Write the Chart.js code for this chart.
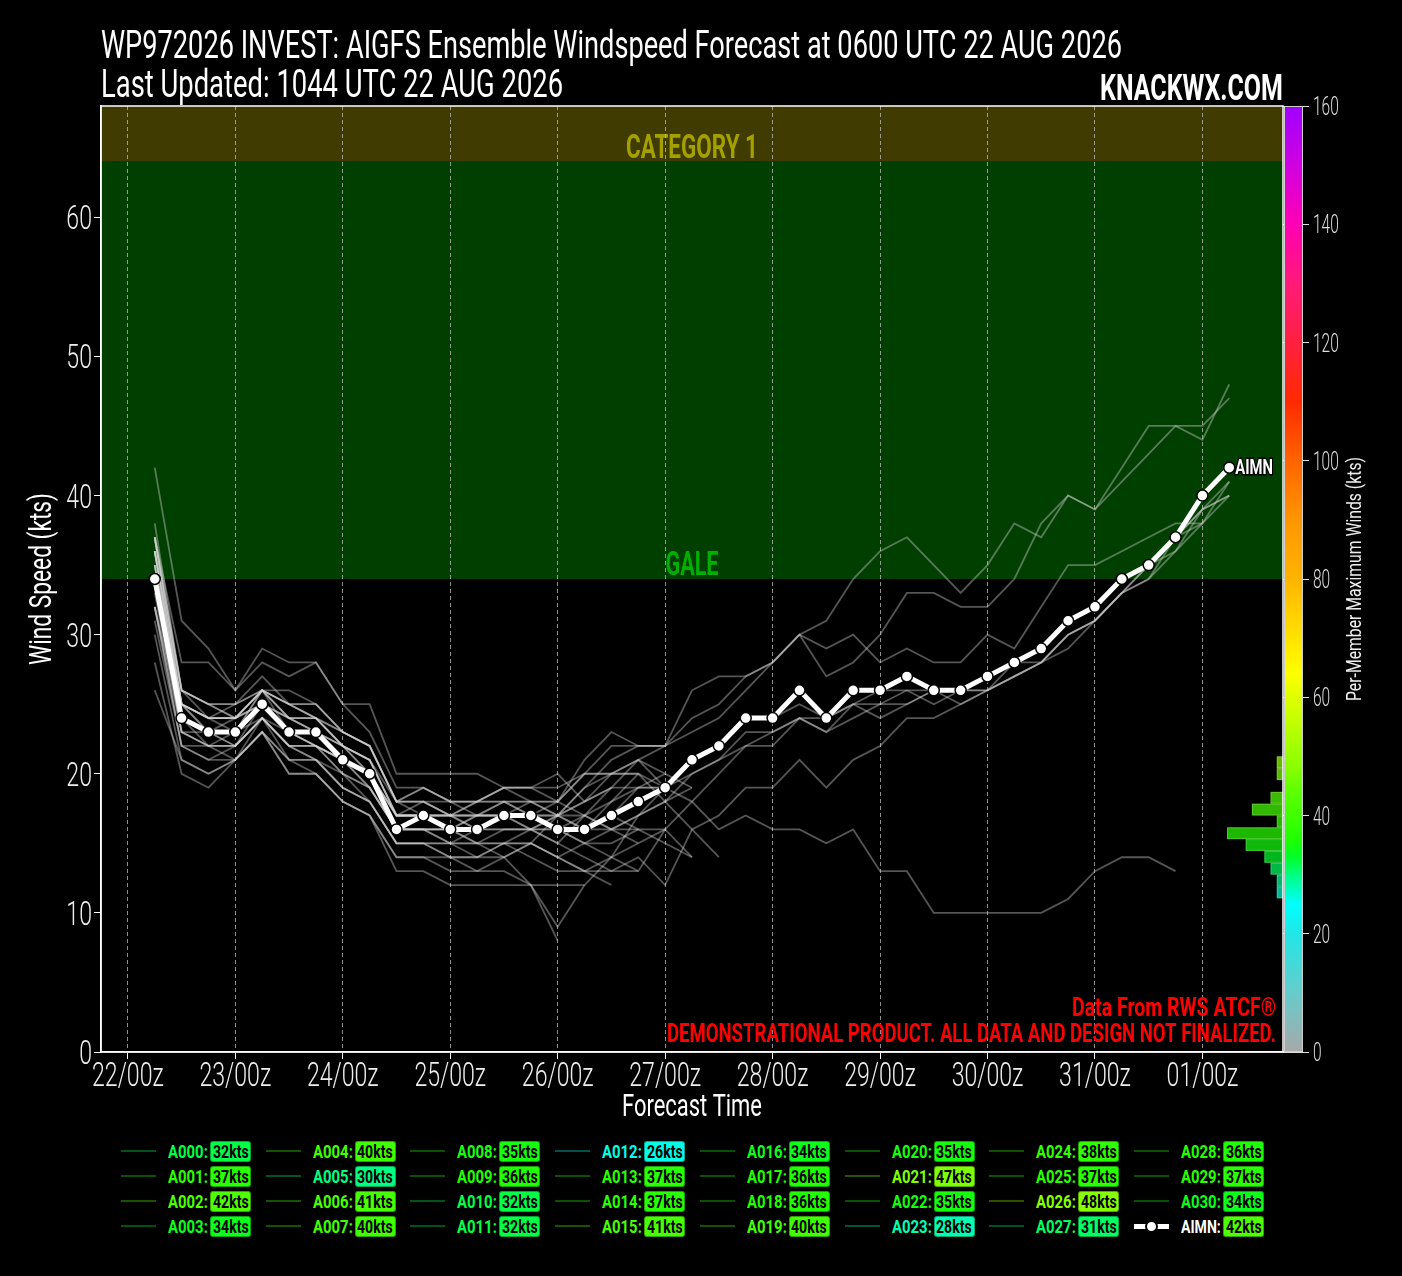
<!DOCTYPE html>
<html>
<head>
<meta charset="utf-8">
<title>WP972026 INVEST AIGFS Ensemble Windspeed Forecast</title>
<script src="https://cdn.jsdelivr.net/npm/chart.js@4.4.1/dist/chart.umd.min.js"></script>
<style>
  html, body { margin: 0; padding: 0; background: #000; }
  body {
    width: 1402px; height: 1276px; position: relative; overflow: hidden; color: #fff;
    font-family: Roboto, 'Liberation Sans', sans-serif;
  }
  #chart { position: absolute; left: 0; top: 0; z-index: 1; }
  .fit { position: absolute; white-space: nowrap; line-height: 1; transform-origin: 0 0; z-index: 2; }
  .title { font-size: 38px; }
  #brand { font-size: 37px; font-weight: bold; }
  #legend { position: absolute; left: 0; top: 0; z-index: 2; }
  .leg-line { position: absolute; height: 2px; }
  .leg-lab {
    position: absolute; font-size: 19px; font-weight: bold; line-height: 21px;
    white-space: nowrap; transform-origin: 0 50%;
  }
  .leg-box {
    position: absolute; width: 41px; height: 21px; border-radius: 3px; color: #000;
    font-size: 18px; font-weight: bold; line-height: 20px; text-align: center;
    box-sizing: border-box; border: 1px solid rgba(0, 0, 0, 0.35); white-space: nowrap;
  }
  .leg-box span { display: inline-block; transform: scaleX(0.78); margin-left: -4px; margin-right: -4px; }
</style>
</head>
<body>
<canvas id="chart" width="1402" height="1130"></canvas>
<div id="title1" class="fit title">WP972026 INVEST: AIGFS Ensemble Windspeed Forecast at 0600 UTC 22 AUG 2026</div>
<div id="title2" class="fit title">Last Updated: 1044 UTC 22 AUG 2026</div>
<div id="brand" class="fit">KNACKWX.COM</div>
<div id="legend"></div>
<script>
  "use strict";

  // Forecast lead times, hours after 22/00z
  const leadHours = [6, 12, 18, 24, 30, 36, 42, 48, 54, 60, 66, 72, 78, 84, 90, 96, 102, 108, 114, 120,
    126, 132, 138, 144, 150, 156, 162, 168, 174, 180, 186, 192, 198, 204, 210, 216, 222, 228, 234, 240, 246];

  // Axis ticks
  const tickHours = [0, 24, 48, 72, 96, 120, 144, 168, 192, 216, 240];
  const tickLabels = ["22/00z", "23/00z", "24/00z", "25/00z", "26/00z", "27/00z",
    "28/00z", "29/00z", "30/00z", "31/00z", "01/00z"];
  const windTicks = [0, 10, 20, 30, 40, 50, 60];
  const colorbarTicks = [0, 20, 40, 60, 80, 100, 120, 140, 160];

  // Ensemble mean
  const AIMN = [34, 24, 23, 23, 25, 23, 23, 21, 20, 16, 17, 16, 16, 17, 17, 16, 16, 17, 18, 19,
    21, 22, 24, 24, 26, 24, 26, 26, 27, 26, 26, 27, 28, 29, 31, 32, 34, 35, 37, 40, 42];
  const aimnMax = 42;

  // Members (values at leadHours, from 6h until each member ends)
  const A000 = [32, 22, 21, 22, 24, 21, 21, 19, 18, 15, 15, 14, 14, 15, 15, 14, 13, 12];
  const A001 = [37, 25, 24, 24, 26, 24, 23, 22, 21, 17, 17, 17, 17, 18, 17, 17, 16, 17, 18];
  const A002 = [42, 31, 29, 26, 29, 28, 28, 25, 25, 20, 20, 20, 20, 19, 19, 20, 18, 19];
  const A003 = [34, 23, 23, 22, 24, 22, 22, 21, 19, 16, 17, 16, 16, 17, 17, 16, 16, 17, 18, 19];
  const A004 = [33, 23, 22, 22, 24, 22, 22, 20, 19, 16, 16, 16, 15, 16, 16, 16, 16, 17, 16, 16,
    18, 20, 22, 23, 24, 24, 25, 24, 25, 26, 26, 26, 28, 28, 30, 31, 33, 34, 37, 39, 40];
  const A005 = [30, 21, 20, 21, 23, 21, 20, 18, 17, 14, 14, 13, 13, 13, 12, 9, 12];
  const A006 = [35, 24, 23, 23, 25, 23, 23, 21, 20, 17, 17, 16, 17, 17, 17, 18, 21, 23, 22, 22,
    26, 27, 27, 28, 30, 29, 30, 28, 29, 28, 28, 30, 29, 32, 35, 35, 36, 37, 38, 38, 41];
  const A007 = [32, 24, 22, 23, 24, 23, 22, 21, 20, 16, 16, 15, 16, 16, 16, 16, 15, 16, 17, 18,
    20, 21, 23, 23, 24, 23, 25, 26, 26, 25, 26, 26, 27, 28, 29, 31, 33, 35, 36, 38, 40];
  const A008 = [35, 25, 24, 24, 25, 24, 24, 22, 21, 17, 17, 17, 17, 17, 18, 18, 17, 16, 16, 15, 14];
  const A009 = [36, 25, 23, 23, 26, 24, 24, 22, 20, 16, 16, 16, 16, 17, 17, 16, 17, 19, 19, 19];
  const A010 = [32, 22, 22, 21, 24, 22, 21, 20, 18, 15, 15, 15, 15, 14, 12, 8];
  const A011 = [32, 23, 22, 22, 24, 22, 22, 20, 19, 16, 16, 15, 15, 15, 16, 17, 17, 16, 15];
  const A012 = [26, 21, 20, 21, 23, 20, 20, 18, 17, 14, 14, 14, 13, 14, 15, 17, 19, 20, 21, 19,
    18, 16, 17, 16, 16, 15, 16, 13, 13, 10, 10, 10, 10, 10, 11, 13, 14, 14, 13];
  const A013 = [37, 26, 24, 25, 26, 25, 25, 23, 22, 18, 18, 17, 18, 18, 18, 17, 16, 17, 19, 20];
  const A014 = [37, 26, 25, 25, 27, 25, 24, 23, 22, 18, 19, 18, 18, 19, 19, 18, 20, 20, 20, 19];
  const A015 = [34, 25, 23, 24, 25, 24, 23, 22, 21, 17, 17, 17, 16, 17, 16, 15, 17, 18, 19, 19,
    20, 21, 22, 22, 24, 23, 24, 25, 25, 26, 26, 27, 28, 29, 31, 32, 34, 35, 37, 39, 41];
  const A016 = [34, 23, 22, 22, 24, 22, 21, 19, 18, 15, 15, 14, 14, 14, 15, 14, 15, 14, 13, 16, 14];
  const A017 = [36, 25, 24, 23, 25, 23, 23, 22, 20, 17, 17, 16, 16, 16, 16, 17, 18, 20, 21, 22];
  const A018 = [36, 24, 23, 23, 26, 23, 22, 21, 20, 16, 16, 16, 16, 17, 17, 16, 15, 15, 16];
  const A019 = [36, 24, 23, 22, 25, 23, 22, 21, 19, 16, 16, 16, 16, 17, 17, 16, 16, 17, 18, 19,
    21, 22, 24, 24, 25, 24, 25, 25, 26, 26, 25, 26, 27, 28, 30, 31, 33, 34, 36, 39, 40];
  const A020 = [35, 24, 23, 23, 25, 23, 23, 21, 20, 17, 17, 17, 16, 17, 17, 16, 16, 16, 17, 18, 19];
  const A021 = [36, 25, 24, 24, 26, 25, 24, 23, 22, 18, 18, 18, 17, 18, 18, 18, 20, 22, 22, 22,
    24, 25, 27, 28, 30, 31, 34, 36, 37, 35, 33, 35, 38, 37, 40, 39, 42, 45, 45, 45, 47];
  const A022 = [35, 25, 24, 24, 25, 24, 23, 21, 20, 17, 17, 16, 17, 17, 16, 15, 14, 13, 13];
  const A023 = [28, 20, 19, 21, 23, 20, 20, 18, 17, 13, 13, 12, 12, 12, 12, 12, 12, 14, 17, 19];
  const A024 = [38, 26, 25, 24, 26, 26, 25, 23, 22, 18, 17, 16, 15, 15, 14, 13, 13, 13, 14, 12,
    16, 17, 19, 19, 21, 19, 21, 22, 24, 24, 25, 26, 27, 28, 30, 31, 33, 35, 37, 38];
  const A025 = [37, 28, 28, 26, 28, 27, 28, 25, 23, 19, 19, 18, 18, 19, 19, 19, 20, 20, 20, 18, 16, 14];
  const A026 = [37, 26, 25, 25, 26, 25, 25, 23, 22, 18, 19, 18, 18, 19, 18, 17, 19, 21, 22, 22,
    23, 24, 26, 28, 30, 27, 28, 30, 33, 33, 32, 32, 34, 38, 40, 39, 41, 43, 45, 44, 48];
  const A027 = [31, 22, 21, 21, 23, 21, 21, 19, 18, 15, 15, 15, 14, 15, 15, 14, 13, 14, 15, 16];
  const A028 = [36, 26, 25, 24, 26, 25, 24, 22, 21, 18, 18, 17, 18, 18, 17, 17, 18, 19, 21, 20, 19];
  const A029 = [37, 25, 24, 24, 26, 24, 24, 22, 21, 17, 18, 17, 17, 17, 17, 16, 16, 18, 20];
  const A030 = [34, 24, 23, 23, 25, 23, 22, 21, 20, 16, 17, 16, 16, 17, 17, 16, 16];

  const memberSeries = [A000, A001, A002, A003, A004, A005, A006, A007, A008, A009, A010,
    A011, A012, A013, A014, A015, A016, A017, A018, A019, A020, A021, A022, A023, A024,
    A025, A026, A027, A028, A029, A030];
  const memberNames = ["A000", "A001", "A002", "A003", "A004", "A005", "A006", "A007", "A008",
    "A009", "A010", "A011", "A012", "A013", "A014", "A015", "A016", "A017", "A018", "A019",
    "A020", "A021", "A022", "A023", "A024", "A025", "A026", "A027", "A028", "A029", "A030"];
  // Per-member maximum winds, as printed in the legend
  const memberMax = [32, 37, 42, 34, 40, 30, 41, 40, 35, 36, 32, 32, 26, 37, 37, 41, 34, 36, 36,
    40, 35, 47, 35, 28, 38, 37, 48, 31, 36, 37, 34];

  // Histogram of per-member maximum winds (2 kt bins, on the colorbar scale)
  const histBinStart = [26, 28, 30, 32, 34, 36, 38, 40, 42, 44, 46, 48];
  const histCounts = [1, 1, 2, 3, 6, 9, 1, 5, 2, 0, 1, 1];
  const histBinWidth = 2;

  // Intensity bands
  const bandLow = [34, 64];
  const bandHigh = [64, 68];
  const bandLabels = ["GALE", "CATEGORY 1"];

  // Colormap for per-member maximum winds
  const cmapValues = [0, 10, 20, 25, 30, 33, 36, 40, 44, 48, 54, 60, 64, 80, 90, 100, 110, 120, 130, 140, 150, 160];
  const cmapColors = ["#a8a8a8", "#66cccc", "#22e6e6", "#00ffff", "#00ff80", "#00ff28", "#20ff00",
    "#40ff00", "#5cff00", "#88ff00", "#b4ff00", "#e0ff00", "#ffff00", "#ffb400", "#ff9600",
    "#ff6400", "#ff2a00", "#ff2040", "#ff1a78", "#ff00b4", "#d000e0", "#a000ff"];

  const FONT = "Roboto, 'Liberation Sans', sans-serif";
  const SQ = 0.7; // horizontal squeeze for the condensed look

  function hexToRgb(h) {
    return [parseInt(h.slice(1, 3), 16), parseInt(h.slice(3, 5), 16), parseInt(h.slice(5, 7), 16)];
  }

  function cmap(v, alpha) {
    v = Math.max(cmapValues[0], Math.min(cmapValues[cmapValues.length - 1], v));
    let i = 0;
    while (i < cmapValues.length - 2 && v > cmapValues[i + 1]) i++;
    const t = (v - cmapValues[i]) / (cmapValues[i + 1] - cmapValues[i]);
    const c0 = hexToRgb(cmapColors[i]);
    const c1 = hexToRgb(cmapColors[i + 1]);
    const c = c0.map((c, k) => Math.round(c + (c1[k] - c) * t));
    return "rgba(" + c[0] + "," + c[1] + "," + c[2] + "," + (alpha === undefined ? 1 : alpha) + ")";
  }

  // Text squeezed horizontally by a factor
  function squeeze(ctx, text, x, y, sx, align) {
    ctx.save();
    ctx.translate(x, y);
    ctx.scale(sx, 1);
    ctx.textAlign = align;
    ctx.fillText(text, 0, 0);
    ctx.restore();
  }

  // Text squeezed to a given width
  function fitText(ctx, text, x, y, width, align) {
    squeeze(ctx, text, x, y, width / ctx.measureText(text).width, align);
  }

  /**
   * Background, intensity bands and band names
   */
  const bandsPlugin = {
    id: "bands",
    beforeDraw(chart) {
      const { ctx, chartArea: a, scales: { y } } = chart;
      ctx.save();
      ctx.fillStyle = "#000";
      ctx.fillRect(0, 0, chart.width, chart.height);
      const fills = ["#003f00", "#403b00"];
      const textColors = ["#00b000", "#a3a000"];
      const textWidths = [53, 132];
      bandLow.forEach((lo, i) => {
        const top = y.getPixelForValue(bandHigh[i]);
        const bottom = y.getPixelForValue(lo);
        ctx.fillStyle = fills[i];
        ctx.fillRect(a.left, top, a.right - a.left, bottom - top);
        ctx.fillStyle = textColors[i];
        ctx.font = "bold 34px " + FONT;
        ctx.textBaseline = "alphabetic";
        fitText(ctx, bandLabels[i], (a.left + a.right) / 2, bottom - 4, textWidths[i], "center");
      });
      ctx.restore();
    },
  };

  /**
   * Histogram, mean label, colorbar, frame, axis labels and notes
   */
  const overlayPlugin = {
    id: "overlay",
    afterDatasetsDraw(chart) {
      const { ctx, scales: { yc, xh } } = chart;
      ctx.save();
      histBinStart.forEach((start, i) => {
        if (!histCounts[i]) return;
        const top = yc.getPixelForValue(start + histBinWidth);
        const bottom = yc.getPixelForValue(start);
        const left = xh.getPixelForValue(histCounts[i]);
        const right = xh.getPixelForValue(0);
        ctx.fillStyle = cmap(start + histBinWidth / 2, 0.72);
        ctx.fillRect(left, top, right - left, bottom - top);
        ctx.strokeStyle = "rgba(255,255,255,0.22)";
        ctx.lineWidth = 1;
        ctx.strokeRect(left + 0.5, top + 0.5, right - left - 1, bottom - top - 1);
      });

      // AIMN label at last mean point
      const pts = chart.getDatasetMeta(0).data;
      const last = pts[pts.length - 1];
      ctx.font = "bold 20px " + FONT;
      ctx.textBaseline = "alphabetic";
      ctx.lineWidth = 3;
      ctx.strokeStyle = "#000";
      ctx.save();
      ctx.translate(last.x + 6, last.y + 6);
      ctx.scale(0.74, 1);
      ctx.textAlign = "left";
      ctx.strokeText("AIMN", 0, 0);
      ctx.fillStyle = "#fff";
      ctx.fillText("AIMN", 0, 0);
      ctx.restore();
      ctx.restore();
    },
    afterDraw(chart) {
      const { ctx, chartArea: a, scales: { x, y, yc } } = chart;
      ctx.save();

      // colorbar
      const x0 = yc.left + 1;
      const w = 19;
      const grad = ctx.createLinearGradient(0, yc.bottom, 0, yc.top);
      cmapValues.forEach((v, i) => grad.addColorStop(v / 160, cmapColors[i]));
      ctx.fillStyle = grad;
      ctx.fillRect(x0, yc.top, w, yc.bottom - yc.top);
      ctx.strokeStyle = "#cfcfcf";
      ctx.lineWidth = 1;
      ctx.strokeRect(x0 + 0.5, yc.top + 0.5, w - 1, yc.bottom - yc.top - 1);

      // tick labels
      ctx.textBaseline = "alphabetic";
      ctx.fillStyle = "#eee";
      ctx.font = "300 33px " + FONT;
      tickHours.forEach((h, i) => {
        squeeze(ctx, tickLabels[i], x.getPixelForValue(h), a.bottom + 34, SQ, "center");
      });
      windTicks.forEach((v) => {
        squeeze(ctx, String(v), a.left - 9, y.getPixelForValue(v) + 12, SQ, "right");
      });
      ctx.fillStyle = "#ddd";
      ctx.font = "300 25px " + FONT;
      colorbarTicks.forEach((v) => {
        squeeze(ctx, String(v), yc.left + 30, yc.getPixelForValue(v) + 9, 0.62, "left");
      });

      // axis titles
      ctx.fillStyle = "#fff";
      ctx.font = "31px " + FONT;
      fitText(ctx, "Forecast Time", (a.left + a.right) / 2, a.bottom + 64, 140, "center");
      ctx.save();
      ctx.translate(51, (a.top + a.bottom) / 2);
      ctx.rotate(-Math.PI / 2);
      fitText(ctx, "Wind Speed (kts)", 0, 0, 172, "center");
      ctx.restore();
      ctx.fillStyle = "#eee";
      ctx.font = "21px " + FONT;
      ctx.save();
      ctx.translate(1361, (a.top + a.bottom) / 2);
      ctx.rotate(-Math.PI / 2);
      fitText(ctx, "Per-Member Maximum Winds (kts)", 0, 0, 244, "center");
      ctx.restore();

      // plot frame
      ctx.strokeStyle = "#fff";
      ctx.lineWidth = 1.5;
      ctx.strokeRect(a.left, a.top, a.right - a.left, a.bottom - a.top);

      // notes
      ctx.fillStyle = "#ff0000";
      ctx.font = "bold 26px " + FONT;
      fitText(ctx, "Data From RWS ATCF\u00ae", a.right - 7, a.bottom - 36, 204, "right");
      fitText(ctx, "DEMONSTRATIONAL PRODUCT. ALL DATA AND DESIGN NOT FINALIZED.",
        a.right - 7, a.bottom - 10, 609, "right");
      ctx.restore();
    },
  };

  Chart.defaults.font.family = FONT;
  Chart.defaults.color = "#eee";

  const toPoints = (values) => values.map((v, i) => ({ x: leadHours[i], y: v }));

  const datasets = [
    {
      label: "AIMN",
      data: toPoints(AIMN),
      borderColor: "#fff",
      borderWidth: 5,
      pointRadius: 5.5,
      pointBackgroundColor: "#fff",
      pointBorderColor: "#000",
      pointBorderWidth: 1.5,
      order: 0,
    },
  ];
  memberSeries.forEach((series, k) => {
    datasets.push({
      label: memberNames[k],
      data: toPoints(series),
      borderColor: "rgba(215, 215, 215, 0.4)",
      borderWidth: 1.8,
      pointRadius: 0,
      order: 1,
    });
  });

  new Chart(document.getElementById("chart"), {
    type: "line",
    data: { datasets: datasets },
    plugins: [bandsPlugin, overlayPlugin],
    options: {
      responsive: false,
      animation: false,
      layout: { padding: { top: 106, left: 0, right: 0, bottom: 0 } },
      plugins: { legend: { display: false }, tooltip: { enabled: false } },
      elements: { line: { tension: 0 } },
      scales: {
        x: {
          type: "linear",
          min: -6,
          max: 258,
          afterBuildTicks: (scale) => { scale.ticks = tickHours.map((v) => ({ value: v })); },
          afterFit: (scale) => { scale.height = 78; },
          ticks: { display: false },
          grid: {
            color: "rgba(190,190,190,0.75)",
            lineWidth: 1,
            tickLength: 7,
            tickColor: "#fff",
            tickBorderDash: [],
          },
          border: { display: true, color: "#fff", width: 1.5, dash: [4, 3] },
        },
        y: {
          type: "linear",
          position: "left",
          min: 0,
          max: 68,
          afterBuildTicks: (scale) => { scale.ticks = windTicks.map((v) => ({ value: v })); },
          afterFit: (scale) => { scale.width = 101; },
          ticks: { display: false },
          grid: { drawOnChartArea: false, tickLength: 7, tickColor: "#fff" },
          border: { display: true, color: "#fff", width: 1.5 },
        },
        yc: {
          type: "linear",
          position: "right",
          min: 0,
          max: 160,
          afterBuildTicks: (scale) => { scale.ticks = colorbarTicks.map((v) => ({ value: v })); },
          afterFit: (scale) => { scale.width = 119; },
          ticks: { display: false },
          grid: { drawOnChartArea: false, tickLength: 26, tickColor: "#ddd" },
          border: { display: false },
        },
        xh: {
          type: "linear",
          display: false,
          reverse: true,
          min: 0,
          max: 190,
        },
      },
    },
  });

  // Titles, squeezed to the reference widths
  function placeFit(id, left, top, width) {
    const el = document.getElementById(id);
    el.style.left = left + "px";
    el.style.top = top + "px";
    el.style.transform = "scaleX(" + (width / el.scrollWidth) + ")";
  }
  placeFit("title1", 101, 26, 1021);
  placeFit("title2", 101, 65, 462);
  placeFit("brand", 1100, 69, 183);

  // Legend: 8 columns x 4 rows
  const legendEl = document.getElementById("legend");
  const legendNames = memberNames.concat(["AIMN"]);
  const legendMax = memberMax.concat([aimnMax]);
  legendNames.forEach((name, i) => {
    const col = Math.floor(i / 4);
    const row = i % 4;
    const x0 = 121 + col * 144.7;
    const yMid = 1151 + row * 25;
    const isMean = name === "AIMN";

    const line = document.createElement("div");
    line.className = "leg-line";
    line.style.left = x0 + "px";
    line.style.width = "35px";
    if (isMean) {
      line.style.top = (yMid - 2.5) + "px";
      line.style.height = "5px";
      line.style.background = "#fff";
      const dot = document.createElement("div");
      dot.style.cssText = "position:absolute;left:11px;top:-4px;width:13px;height:13px;" +
        "border-radius:50%;background:#fff;box-sizing:border-box;border:2px solid #000;";
      line.appendChild(dot);
    } else {
      line.style.top = (yMid - 1) + "px";
      line.style.background = cmap(legendMax[i], 0.32);
    }
    legendEl.appendChild(line);

    const lab = document.createElement("div");
    lab.className = "leg-lab";
    lab.textContent = name + ":";
    lab.style.left = (x0 + 47) + "px";
    lab.style.top = (yMid - 10.5) + "px";
    lab.style.color = isMean ? "#fff" : cmap(legendMax[i]);
    legendEl.appendChild(lab);
    lab.style.transform = "scaleX(" + (40 / lab.scrollWidth) + ")";

    const box = document.createElement("div");
    box.className = "leg-box";
    const span = document.createElement("span");
    span.textContent = legendMax[i] + "kts";
    box.appendChild(span);
    box.style.left = (x0 + 89) + "px";
    box.style.top = (yMid - 10.5) + "px";
    box.style.background = cmap(legendMax[i]);
    legendEl.appendChild(box);
  });
</script>
</body>
</html>
